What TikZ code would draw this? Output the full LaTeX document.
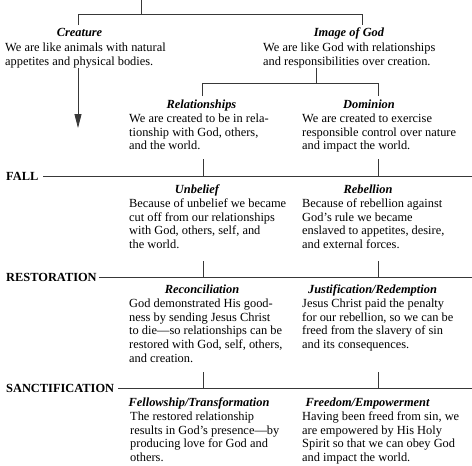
\documentclass[tikz,border=0pt]{standalone}
\usepackage{fontspec}
\setmainfont{Liberation Serif}
\usetikzlibrary{arrows.meta}
\newcommand\myfs{\fontsize{12.4}{13.7}\selectfont}
\newcommand\lines[1]{\begin{tabular}[t]{@{}l@{}}#1\end{tabular}}
\begin{document}
\begin{tikzpicture}[x=1pt,y=-1pt,
  conn/.style={draw=black!78, line width=0.8pt},
  ttl/.style={anchor=base, inner sep=0pt, font=\myfs\bfseries\itshape},
  bdy/.style={anchor=base west, inner sep=0pt, font=\myfs},
  lbl/.style={anchor=base west, inner sep=0pt, font=\myfs\bfseries},
]
\useasboundingbox (0,0) rectangle (472,466);

% ---- level 1
\node[ttl] (cT) at (79.5,36.5) {Creature};
\node[bdy] (cB) at (5,51.5) {\lines{We are like animals with natural\\appetites and physical bodies.}};
\node[ttl] (iT) at (349,36.5) {Image of God};
\node[bdy] (iB) at (263,51.5) {\lines{We are like God with relationships\\and responsibilities over creation.}};

% ---- level 2
\node[ttl] (rT) at (201.5,108.5) {Relationships};
\node[bdy] (rB) at (129,122.5) {\lines{We are created to be in rela-\\tionship with God, others,\\and the world.}};
\node[ttl] (dT) at (369,108.5) {Dominion};
\node[bdy] (dB) at (302,122.5) {\lines{We are created to exercise\\responsible control over nature\\and impact the world.}};

% ---- fall
\node[lbl] (fall) at (6,180) {FALL};
\node[ttl] (uT) at (197,193.5) {Unbelief};
\node[bdy] (uB) at (129,207.5) {\lines{Because of unbelief we became\\cut off from our relationships\\with God, others, self, and\\the world.}};
\node[ttl] (rbT) at (368,193.5) {Rebellion};
\node[bdy] (rbB) at (302,207.5) {\lines{Because of rebellion against\\God’s rule we became\\enslaved to appetites, desire,\\and external forces.}};

% ---- restoration
\node[lbl] (rest) at (6,281) {RESTORATION};
\node[ttl] (rcT) at (202,293.5) {Reconciliation};
\node[bdy] (rcB) at (129,307.5) {\lines{God demonstrated His good-\\ness by sending Jesus Christ\\to die—so relationships can be\\restored with God, self, others,\\and creation.}};
\node[ttl] (jT) at (372.5,293.5) {Justification/Redemption};
\node[bdy] (jB) at (302,307.5) {\lines{Jesus Christ paid the penalty\\for our rebellion, so we can be\\freed from the slavery of sin\\and its consequences.}};

% ---- sanctification
\node[lbl] (sanc) at (6,392) {SANCTIFICATION};
\node[ttl] (fT) at (199,406.5) {Fellowship/Transformation};
\node[bdy] (fB) at (130,420.5) {\lines{The restored relationship\\results in God’s presence—by\\producing love for God and\\others.}};
\node[ttl] (feT) at (367.5,406.5) {Freedom/Empowerment};
\node[bdy] (feB) at (302,420.5) {\lines{Having been freed from sin, we\\are empowered by His Holy\\Spirit so that we can obey God\\and impact the world.}};

% ---- coordinates
\coordinate (top) at (141,0);
\coordinate (j0) at (141,14);
\coordinate (j0L) at (78,14);
\coordinate (j0R) at (362,14);
\coordinate (cTop) at (78,25);
\coordinate (iTop) at (362,25);
\coordinate (iBot) at (316,68);
\coordinate (j1) at (316,83);
\coordinate (j1L) at (202,83);
\coordinate (j1R) at (378,83);
\coordinate (rTop) at (202,96);
\coordinate (dTop) at (378,96);
\coordinate (arrS) at (78,68);
\coordinate (arrE) at (78,128);
\coordinate (rBot) at (203,159);
\coordinate (dBot) at (378,159);
\coordinate (fallL) at (43,176);
\coordinate (fallR) at (472,176);
\coordinate (uBot) at (203,261);
\coordinate (rbBot) at (378,261);
\coordinate (restL) at (99,277);
\coordinate (restR) at (472,277);
\coordinate (rcBot) at (203,372);
\coordinate (jBot) at (378,372);
\coordinate (sancL) at (118,388);
\coordinate (sancR) at (472,388);

% ---- connectors
\draw[conn] (top) -- (j0);
\draw[conn] (cTop) -- (j0L) -- (j0R) -- (iTop);
\draw[conn] (iBot) -- (j1);
\draw[conn] (rTop) -- (j1L) -- (j1R) -- (dTop);
\draw[conn, -{Triangle[length=14pt,width=7pt]}] (arrS) -- (arrE);
\draw[conn] (rBot) -- (rBot |- fallL);
\draw[conn] (dBot) -- (dBot |- fallL);
\draw[conn] (fallL) -- (fallR);
\draw[conn] (uBot) -- (uBot |- restL);
\draw[conn] (rbBot) -- (rbBot |- restL);
\draw[conn] (restL) -- (restR);
\draw[conn] (rcBot) -- (rcBot |- sancL);
\draw[conn] (jBot) -- (jBot |- sancL);
\draw[conn] (sancL) -- (sancR);
\end{tikzpicture}
\end{document}
